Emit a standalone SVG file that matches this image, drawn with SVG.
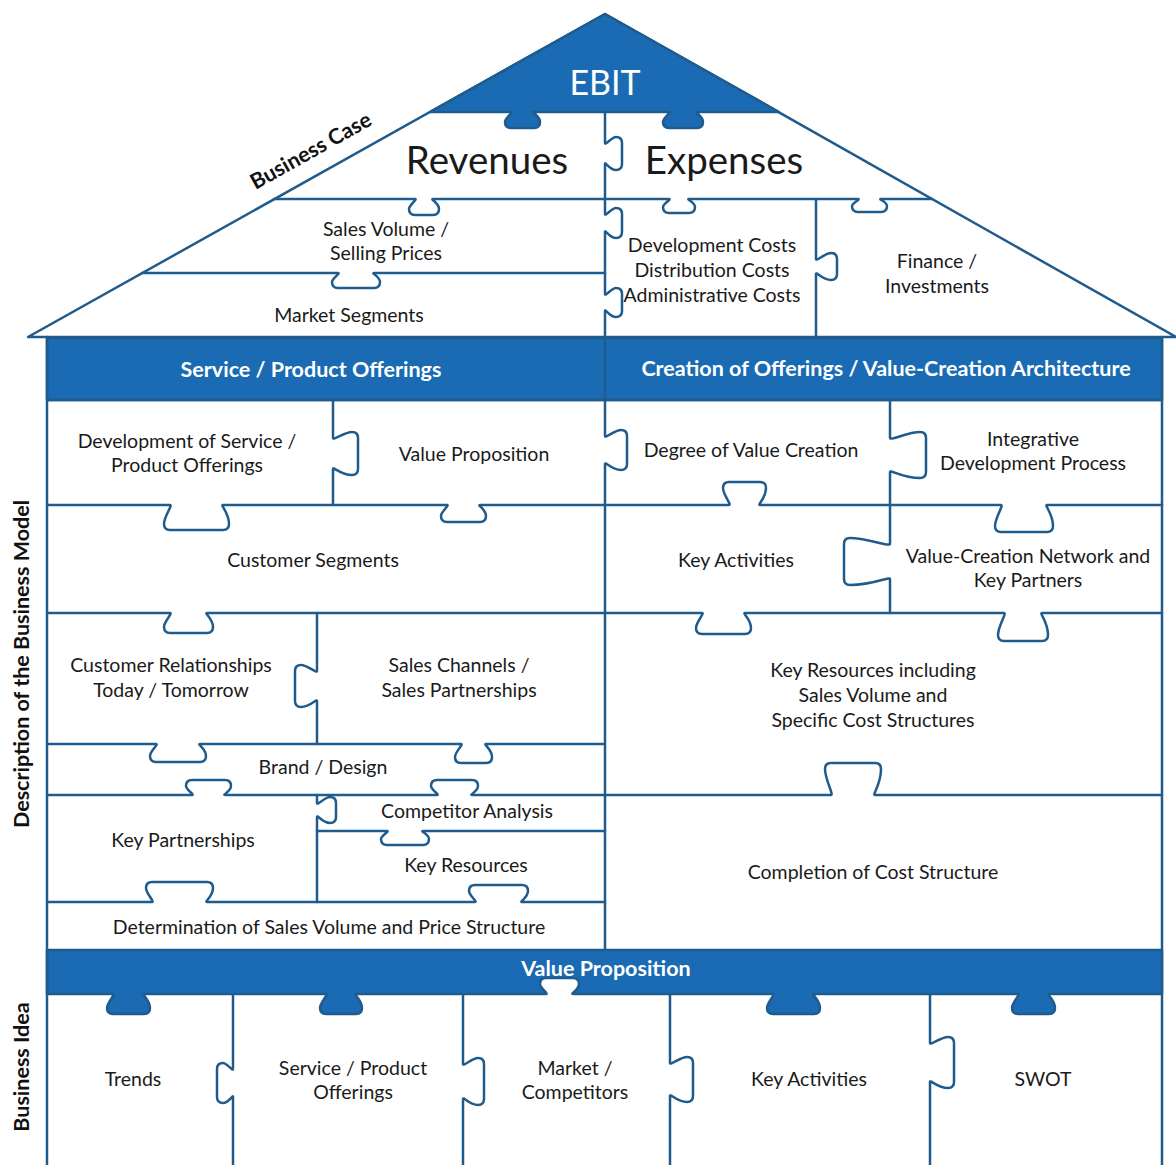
<svg xmlns="http://www.w3.org/2000/svg" width="1176" height="1165" viewBox="0 0 1176 1165">
<style>
.ln{fill:none;stroke:#1f5b8c;stroke-width:2.5;stroke-linejoin:round;stroke-linecap:round}
.bl{fill:#1a6bb3;stroke:#1f5b8c;stroke-width:2.5;stroke-linejoin:round}
.t{font-family:Lato,"Open Sans",sans-serif;font-size:19.5px;fill:#1a1a1a;text-anchor:middle}
.big{font-size:38.5px}
.w{fill:#ffffff}
.hd{font-weight:bold;fill:#ffffff;font-size:21.5px}
.side{font-weight:bold;font-size:21.5px;fill:#111111}
</style>
<rect x="0" y="0" width="1176" height="1165" fill="#ffffff"/>

<g id="structure">
  <rect class="bl" x="47" y="338" width="1115" height="62"/>
  <path class="bl" d="M 47,994 H 113 c 3,0 -6,8.4 -6,14 c 0,4 2,6 6,6 h 31 c 4,0 6,-2 6,-6 c 0,-8.4 -9,-14 -6,-14 H 326 c 3,0 -6,8.4 -6,14 c 0,4 2,6 6,6 h 30 c 4,0 6,-2 6,-6 c 0,-8.4 -9,-14 -6,-14 H 546 c 3,0 -6,-6 -6,-10 c 0,-4 2,-6 6,-6 h 27 c 4,0 6,2 6,6 c 0,6 -9,10 -6,10 H 773 c 3,0 -6,8.4 -6,14 c 0,4 2,6 6,6 h 41 c 4,0 6,-2 6,-6 c 0,-8.4 -9,-14 -6,-14 H 1018 c 3,0 -6,8.4 -6,14 c 0,4 2,6 6,6 h 31 c 4,0 6,-2 6,-6 c 0,-8.4 -9,-14 -6,-14 H 1162 V 950 H 47 Z"/>
  <path class="ln" d="M 28,337 L 605,14 L 1176,337 Z"/>
  <path class="bl" d="M 430,112 H 511 c 3,0 -6,6 -6,10 c 0,4 2,6 6,6 h 23 c 4,0 6,-2 6,-6 c 0,-6 -9,-10 -6,-10 H 669 c 3,0 -6,6 -6,10 c 0,4 2,6 6,6 h 28 c 4,0 6,-2 6,-6 c 0,-6 -9,-10 -6,-10 H 779 L 605,14 Z"/>
  <path class="ln" d="M 47,337 V 1165 M 1162,337 V 1165 M 47,400 H 1162"/>
</g>

<g id="connectors">
  <path class="ln" d="M 605,112 V 143 c 0,3 6.6,-6 11,-6 c 4,0 6,2 6,6 v 21 c 0,4 -2,6 -6,6 c -6.6,0 -11,-9 -11,-6 V 214 c 0,3 6.6,-6 11,-6 c 4,0 6,2 6,6 v 18 c 0,4 -2,6 -6,6 c -6.6,0 -11,-9 -11,-6 V 294 c 0,3 6.6,-6 11,-6 c 4,0 6,2 6,6 v 17 c 0,4 -2,6 -6,6 c -6.6,0 -11,-9 -11,-6 V 337"/>
  <path class="ln" d="M 274,199 H 415 c 3,0 -6,6 -6,10 c 0,4 2,6 6,6 h 18 c 4,0 6,-2 6,-6 c 0,-6 -9,-10 -6,-10 H 669 c 3,0 -6,4.8 -6,8 c 0,4 2,6 6,6 h 20 c 4,0 6,-2 6,-6 c 0,-4.8 -9,-8 -6,-8 H 858 c 3,0 -6,4.2 -6,7 c 0,4 2,6 6,6 h 23 c 4,0 6,-2 6,-6 c 0,-4.2 -9,-7 -6,-7 H 932"/>
  <path class="ln" d="M 142,273 H 338 c 3,0 -6,5.4 -6,9 c 0,4 2,6 6,6 h 36 c 4,0 6,-2 6,-6 c 0,-5.4 -9,-9 -6,-9 H 605"/>
  <path class="ln" d="M 816,199 V 259 c 0,3 9,-6 15,-6 c 4,0 6,2 6,6 v 15 c 0,4 -2,6 -6,6 c -9,0 -15,-9 -15,-6 V 337"/>
  <path class="ln" d="M 605,337 V 436 c 0,3 9.6,-6 16,-6 c 4,0 6,2 6,6 v 28 c 0,4 -2,6 -6,6 c -9.6,0 -16,-9 -16,-6 V 950"/>
  <path class="ln" d="M 333,400 V 438 c 0,3 11.4,-6 19,-6 c 4,0 6,2 6,6 v 31 c 0,4 -2,6 -6,6 c -11.4,0 -19,-9 -19,-6 V 505"/>
  <path class="ln" d="M 47,505 H 170 c 3,0 -6,11.4 -6,19 c 0,4 2,6 6,6 h 53 c 4,0 6,-2 6,-6 c 0,-11.4 -9,-19 -6,-19 H 447 c 3,0 -6,6.6 -6,11 c 0,4 2,6 6,6 h 33 c 4,0 6,-2 6,-6 c 0,-6.6 -9,-11 -6,-11 H 605"/>
  <path class="ln" d="M 47,613 H 170 c 3,0 -6,8.4 -6,14 c 0,4 2,6 6,6 h 37 c 4,0 6,-2 6,-6 c 0,-8.4 -9,-14 -6,-14 H 605"/>
  <path class="ln" d="M 317,613 V 671 c 0,3 -9.6,-6 -16,-6 c -4,0 -6,2 -6,6 v 30 c 0,4 2,6 6,6 c 9.6,0 16,-9 16,-6 V 744"/>
  <path class="ln" d="M 47,744 H 156 c 3,0 -6,7.2 -6,12 c 0,4 2,6 6,6 h 44 c 4,0 6,-2 6,-6 c 0,-7.2 -9,-12 -6,-12 H 461 c 3,0 -6,7.8 -6,13 c 0,4 2,6 6,6 h 25 c 4,0 6,-2 6,-6 c 0,-7.8 -9,-13 -6,-13 H 605"/>
  <path class="ln" d="M 47,795 H 192 c 3,0 -6,-5.4 -6,-9 c 0,-4 2,-6 6,-6 h 33 c 4,0 6,2 6,6 c 0,5.4 -9,9 -6,9 H 437 c 3,0 -6,-5.4 -6,-9 c 0,-4 2,-6 6,-6 h 35 c 4,0 6,2 6,6 c 0,5.4 -9,9 -6,9 H 605"/>
  <path class="ln" d="M 317,795 V 803 c 0,3 7.8,-6 13,-6 c 4,0 6,2 6,6 v 14 c 0,4 -2,6 -6,6 c -7.8,0 -13,-9 -13,-6 V 902"/>
  <path class="ln" d="M 317,831 H 387 c 3,0 -6,4.8 -6,8 c 0,4 2,6 6,6 h 36 c 4,0 6,-2 6,-6 c 0,-4.8 -9,-8 -6,-8 H 605"/>
  <path class="ln" d="M 47,902 H 152 c 3,0 -6,-8.4 -6,-14 c 0,-4 2,-6 6,-6 h 55 c 4,0 6,2 6,6 c 0,8.4 -9,14 -6,14 H 475 c 3,0 -6,-6.6 -6,-11 c 0,-4 2,-6 6,-6 h 47 c 4,0 6,2 6,6 c 0,6.6 -9,11 -6,11 H 605"/>
  <path class="ln" d="M 890,400 V 438 c 0,3 18,-6 30,-6 c 4,0 6,2 6,6 v 34 c 0,4 -2,6 -6,6 c -18,0 -30,-9 -30,-6 V 544 c 0,3 -24,-6 -40,-6 c -4,0 -6,2 -6,6 v 35 c 0,4 2,6 6,6 c 24,0 40,-9 40,-6 V 613"/>
  <path class="ln" d="M 605,505 H 729 c 3,0 -6,-10.2 -6,-17 c 0,-4 2,-6 6,-6 h 31 c 4,0 6,2 6,6 c 0,10.2 -9,17 -6,17 H 1001 c 3,0 -6,12.6 -6,21 c 0,4 2,6 6,6 h 46 c 4,0 6,-2 6,-6 c 0,-12.6 -9,-21 -6,-21 H 1162"/>
  <path class="ln" d="M 605,613 H 702 c 3,0 -6,9 -6,15 c 0,4 2,6 6,6 h 43 c 4,0 6,-2 6,-6 c 0,-9 -9,-15 -6,-15 H 1004 c 3,0 -6,13.2 -6,22 c 0,4 2,6 6,6 h 38 c 4,0 6,-2 6,-6 c 0,-13.2 -9,-22 -6,-22 H 1162"/>
  <path class="ln" d="M 605,795 H 831 c 3,0 -6,-15.6 -6,-26 c 0,-4 2,-6 6,-6 h 44 c 4,0 6,2 6,6 c 0,15.6 -9,26 -6,26 H 1162"/>
  <path class="ln" d="M 233,994 V 1069 c 0,3 -6,-6 -10,-6 c -4,0 -6,2 -6,6 v 28 c 0,4 2,6 6,6 c 6,0 10,-9 10,-6 V 1165"/>
  <path class="ln" d="M 463,994 V 1064 c 0,3 9,-6 15,-6 c 4,0 6,2 6,6 v 35 c 0,4 -2,6 -6,6 c -9,0 -15,-9 -15,-6 V 1165"/>
  <path class="ln" d="M 670,994 V 1063 c 0,3 10.2,-6 17,-6 c 4,0 6,2 6,6 v 33 c 0,4 -2,6 -6,6 c -10.2,0 -17,-9 -17,-6 V 1165"/>
  <path class="ln" d="M 930,994 V 1043 c 0,3 10.8,-6 18,-6 c 4,0 6,2 6,6 v 39 c 0,4 -2,6 -6,6 c -10.8,0 -18,-9 -18,-6 V 1165"/>
</g>

<g id="ebit"><text class="t w" x="605" y="95" style="font-size:34px">EBIT</text></g>
<g id="revenues"><text class="t big" x="487" y="174">Revenues</text></g>
<g id="expenses"><text class="t big" x="724" y="174">Expenses</text></g>
<g id="sales-volume"><text class="t" x="386" y="236">Sales Volume /</text><text class="t" x="386" y="260">Selling Prices</text></g>
<g id="market-segments"><text class="t" x="349" y="322">Market Segments</text></g>
<g id="costs"><text class="t" x="712" y="252">Development Costs</text><text class="t" x="712" y="277">Distribution Costs</text><text class="t" x="712" y="302">Administrative Costs</text></g>
<g id="finance"><text class="t" x="937" y="268">Finance /</text><text class="t" x="937" y="293">Investments</text></g>
<g id="business-case"><text class="t side" transform="translate(311,151) rotate(-29.2)" x="0" y="7">Business Case</text></g>

<g id="hdr-left"><text class="t hd" x="311" y="377">Service / Product Offerings</text></g>
<g id="hdr-right"><text class="t hd" x="886" y="376">Creation of Offerings / Value-Creation Architecture</text></g>

<g id="dev-offerings"><text class="t" x="187" y="448">Development of Service /</text><text class="t" x="187" y="472">Product Offerings</text></g>
<g id="value-prop-l"><text class="t" x="474" y="461">Value Proposition</text></g>
<g id="customer-segments"><text class="t" x="313" y="567">Customer Segments</text></g>
<g id="customer-rel"><text class="t" x="171" y="672">Customer Relationships</text><text class="t" x="171" y="697">Today / Tomorrow</text></g>
<g id="sales-channels"><text class="t" x="459" y="672">Sales Channels /</text><text class="t" x="459" y="697">Sales Partnerships</text></g>
<g id="brand"><text class="t" x="323" y="774">Brand / Design</text></g>
<g id="competitor"><text class="t" x="467" y="818">Competitor Analysis</text></g>
<g id="key-resources-l"><text class="t" x="466" y="872">Key Resources</text></g>
<g id="key-partnerships"><text class="t" x="183" y="847">Key Partnerships</text></g>
<g id="determination"><text class="t" x="329" y="934">Determination of Sales Volume and Price Structure</text></g>

<g id="degree"><text class="t" x="751" y="457">Degree of Value Creation</text></g>
<g id="integrative"><text class="t" x="1033" y="446">Integrative</text><text class="t" x="1033" y="470">Development Process</text></g>
<g id="key-activities-r"><text class="t" x="736" y="567">Key Activities</text></g>
<g id="network"><text class="t" x="1028" y="563">Value-Creation Network and</text><text class="t" x="1028" y="587">Key Partners</text></g>
<g id="key-resources-r"><text class="t" x="873" y="677">Key Resources including</text><text class="t" x="873" y="702">Sales Volume and</text><text class="t" x="873" y="727">Specific Cost Structures</text></g>
<g id="completion"><text class="t" x="873" y="879">Completion of Cost Structure</text></g>

<g id="value-prop-bar"><text class="t hd" x="606" y="976">Value Proposition</text></g>
<g id="trends"><text class="t" x="133" y="1086">Trends</text></g>
<g id="offerings-b"><text class="t" x="353" y="1075">Service / Product</text><text class="t" x="353" y="1099">Offerings</text></g>
<g id="market-b"><text class="t" x="575" y="1075">Market /</text><text class="t" x="575" y="1099">Competitors</text></g>
<g id="key-activities-b"><text class="t" x="809" y="1086">Key Activities</text></g>
<g id="swot"><text class="t" x="1043" y="1086">SWOT</text></g>

<g id="label-model"><text class="t side" transform="translate(29,664) rotate(-90)" x="0" y="0">Description of the Business Model</text></g>
<g id="label-idea"><text class="t side" transform="translate(29,1067) rotate(-90)" x="0" y="0">Business Idea</text></g>
</svg>
